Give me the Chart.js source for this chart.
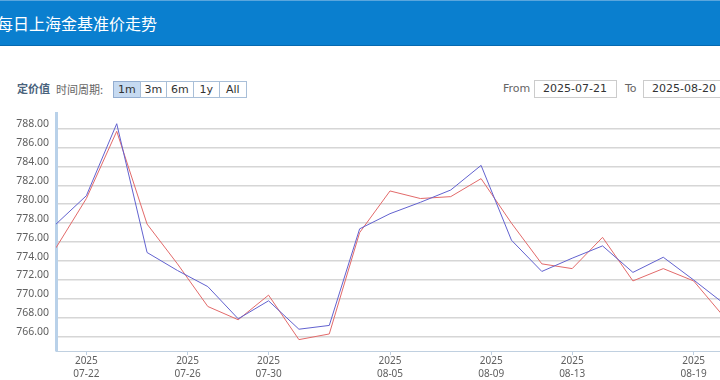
<!DOCTYPE html>
<html>
<head>
<meta charset="utf-8">
<script src="https://cdn.jsdelivr.net/npm/chart.js@4.4.1/dist/chart.umd.min.js"></script>
<style>
  body { margin: 0; width: 720px; height: 380px; overflow: hidden; background: #fff; position: relative; font-family: 'DejaVu Sans', sans-serif; }
  .header { position: absolute; left: 0; top: 0; width: 720px; height: 44px; background: #0a7fcf; border-top: 1px solid #5aa6dd; border-bottom: 1px solid #0669b0; }
  .header h1 { margin: 0; position: absolute; left: -3px; top: 10px; font: 16px/24px 'Noto Sans CJK SC', sans-serif; color: #fff; font-weight: normal; }
  .ylabel { position: absolute; left: 17px; top: 80px; font: bold 11px/16px 'Noto Sans CJK SC', sans-serif; color: #4a637d; }
  .period { position: absolute; left: 56px; top: 81px; font: 11px/17px 'Noto Sans CJK SC', sans-serif; color: #666; }
  .btns { position: absolute; left: 113px; top: 81px; display: flex; }
  .btns span { display: block; width: 25.5px; height: 15px; line-height: 15px; text-align: center; border: 1px solid #a9bfd8; margin-left: -1px; font-size: 11px; color: #333; background: #fff; }
  .btns span:first-child { margin-left: 0; }
  .btns span.on { background: #c6daf1; border-color: #93add0; }
  .range { position: absolute; top: 81px; font-size: 11px; color: #666; line-height: 16px; }
  .box { position: absolute; top: 80px; height: 16px; line-height: 16px; border: 1px solid #ccc; font-size: 11px; color: #333; padding-left: 8px; box-sizing: content-box; }
  #wrap { position: absolute; left: 0; top: 100px; width: 740px; height: 291px; }
</style>
</head>
<body>
<div class="header"><h1>每日上海金基准价走势</h1></div>
<div class="ylabel">定价值</div>
<div class="period">时间周期:</div>
<div class="btns"><span class="on">1m</span><span>3m</span><span>6m</span><span>1y</span><span>All</span></div>
<div class="range" style="left:503px">From</div>
<div class="box" style="left:534px;width:73px">2025-07-21</div>
<div class="range" style="left:625px">To</div>
<div class="box" style="left:643px;width:73px">2025-08-20</div>
<div id="wrap"><canvas id="chart"></canvas></div>
<script>
const tradingDays = [
  '2025-07-21', '2025-07-22', '2025-07-23', '2025-07-24', '2025-07-25',
  '2025-07-28', '2025-07-29', '2025-07-30', '2025-07-31', '2025-08-01',
  '2025-08-04', '2025-08-05', '2025-08-06', '2025-08-07', '2025-08-08',
  '2025-08-11', '2025-08-12', '2025-08-13', '2025-08-14', '2025-08-15',
  '2025-08-18', '2025-08-19', '2025-08-20'
];
const morningPrice = [
  777.9, 780.9, 788.5, 774.9, 773.0, 771.3, 767.9, 769.8, 766.8, 767.2,
  777.4, 779.0, 780.2, 781.5, 784.1, 776.2, 772.9, 774.3, 775.6, 772.8,
  774.4, 772.0, 769.5
];
const afternoonPrice = [
  775.4, 780.6, 787.7, 777.9, 773.7, 769.2, 767.8, 770.4, 765.7, 766.3,
  777.0, 781.4, 780.6, 780.8, 782.7, 778.0, 773.7, 773.2, 776.5, 771.9,
  773.2, 771.9, 768.1
];
const tickDates = ['2025-07-22', '2025-07-26', '2025-07-30', '2025-08-05', '2025-08-09', '2025-08-13', '2025-08-19'];
const yTicks = [766, 768, 770, 772, 774, 776, 778, 780, 782, 784, 786, 788];

// ordinal axis: weekends are collapsed, dates in between are interpolated
function ordinalPos(dateStr) {
  const t = Date.parse(dateStr);
  const times = tradingDays.map((d) => Date.parse(d));
  for (let i = 0; i < times.length - 1; i++) {
    if (t >= times[i] && t <= times[i + 1]) {
      return i + (t - times[i]) / (times[i + 1] - times[i]);
    }
  }
  return times.length - 1;
}

const tickPositions = tickDates.map(ordinalPos);
const tickLabels = tickDates.map((d) => [d.slice(0, 4), d.slice(5)]);

const toPoints = (values) => values.map((y, x) => ({ x, y }));
const font = { family: "'Noto Sans', sans-serif", size: 10, lineHeight: 1.35 };

new Chart(document.getElementById('chart'), {
  type: 'line',
  data: {
    datasets: [
      {
        label: '早盘价',
        data: toPoints(morningPrice),
        borderColor: '#6262cf',
        borderWidth: 1,
        pointRadius: 0,
        tension: 0,
        fill: false,
      },
      {
        label: '午盘价',
        data: toPoints(afternoonPrice),
        borderColor: '#e26a6a',
        borderWidth: 1,
        pointRadius: 0,
        tension: 0,
        fill: false,
      },
    ],
  },
  options: {
    responsive: true,
    maintainAspectRatio: false,
    animation: false,
    layout: { padding: { top: 3, right: 16, left: 0, bottom: 0 } },
    plugins: {
      legend: { display: false },
      tooltip: { enabled: false },
    },
    scales: {
      x: {
        type: 'linear',
        min: 0,
        max: tradingDays.length - 1,
        afterBuildTicks: (scale) => {
          scale.ticks = tickPositions.map((value) => ({ value }));
        },
        afterFit: (scale) => {
          scale.height = 40;
        },
        ticks: {
          autoSkip: false,
          maxRotation: 0,
          padding: -1,
          color: '#606060',
          font,
          callback: (value, index) => tickLabels[index],
        },
        grid: { drawOnChartArea: false, drawTicks: true, tickLength: 4, color: '#c0d0e0' },
        border: { display: true, color: '#c0d0e0', width: 1 },
      },
      y: {
        min: 764.5,
        max: 789.6,
        afterBuildTicks: (scale) => {
          scale.ticks = yTicks.map((value) => ({ value }));
        },
        afterFit: (scale) => {
          scale.width = 56;
        },
        ticks: {
          padding: 7,
          labelOffset: -4.5,
          color: '#606060',
          font: { family: "'Noto Sans', sans-serif", size: 10.5 },
          callback: (value) => Number(value).toFixed(2),
        },
        grid: { drawTicks: false, color: '#d6d6d6', lineWidth: 1.5 },
        border: { display: true, color: '#b9d1e9', width: 3 },
      },
    },
  },
});
</script>
</body>
</html>
